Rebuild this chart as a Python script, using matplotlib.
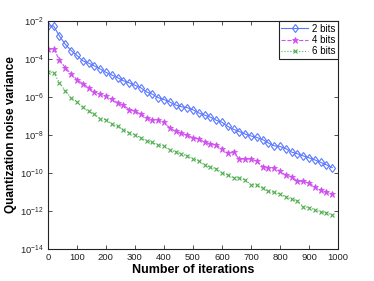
import numpy as np
import matplotlib
matplotlib.use("Agg")
import matplotlib.pyplot as plt

# iterations (markers every 20)
iterations = np.arange(0, 1000, 20)

# noise variance, stored as log10 exponents
exp_2bits = [-2.26, -2.26, -2.79, -3.22, -3.55, -3.81, -4.09, -4.21, -4.36, -4.52,
             -4.70, -4.84, -4.98, -5.14, -5.25, -5.38, -5.51, -5.73, -5.85, -6.03,
             -6.13, -6.26, -6.42, -6.51, -6.56, -6.67, -6.84, -6.95, -7.06, -7.22,
             -7.33, -7.55, -7.70, -7.82, -7.95, -8.05, -8.13, -8.24, -8.42, -8.57,
             -8.60, -8.72, -8.90, -8.99, -9.10, -9.20, -9.31, -9.44, -9.57, -9.72]
exp_4bits = [-3.47, -3.47, -4.04, -4.46, -4.77, -5.08, -5.30, -5.50, -5.72, -5.83,
             -5.97, -6.12, -6.30, -6.42, -6.66, -6.75, -6.89, -7.08, -7.21, -7.21,
             -7.34, -7.63, -7.79, -7.91, -8.02, -8.14, -8.22, -8.36, -8.48, -8.54,
             -8.72, -8.97, -8.92, -9.27, -9.26, -9.27, -9.38, -9.67, -9.73, -9.74,
             -9.90, -10.12, -10.19, -10.44, -10.44, -10.54, -10.72, -10.91, -11.00, -11.11]
exp_6bits = [-4.67, -4.71, -5.25, -5.68, -6.04, -6.26, -6.55, -6.75, -6.90, -7.14,
             -7.19, -7.41, -7.55, -7.71, -7.87, -7.98, -8.14, -8.30, -8.39, -8.53,
             -8.56, -8.79, -8.88, -9.00, -9.09, -9.25, -9.36, -9.58, -9.69, -9.77,
             -9.99, -10.10, -10.25, -10.24, -10.37, -10.61, -10.63, -10.81, -10.95, -11.02,
             -11.12, -11.25, -11.38, -11.47, -11.77, -11.82, -11.95, -12.04, -12.09, -12.21]

labels = ["2 bits", "4 bits", "6 bits"]

plt.rcParams['font.family'] = ['Liberation Sans', 'DejaVu Sans']

fig = plt.figure(figsize=(3.74, 2.81), dpi=100)
ax = fig.add_axes([0.128, 0.114, 0.776, 0.811])

ax.semilogy(iterations, 10.0 ** np.array(exp_2bits), '-', color='#5a78ff', lw=0.8,
            marker='d', markersize=4.5, markerfacecolor='none', markeredgewidth=0.8,
            label=labels[0])
ax.semilogy(iterations, 10.0 ** np.array(exp_4bits), '--', color='#d050f0', lw=0.8,
            marker='*', markersize=4.5, markeredgewidth=0.6, label=labels[1])
ax.semilogy(iterations, 10.0 ** np.array(exp_6bits), ':', color='#4caf4c', lw=0.8,
            marker='x', markersize=3.5, markeredgewidth=0.8, label=labels[2])

ax.set_xlim(0, 1000)
ax.set_ylim(1e-14, 1e-2)
ax.set_xticks(np.arange(0, 1001, 100))
ax.set_yticks([10.0 ** e for e in range(-14, -1, 2)])
ax.yaxis.set_minor_locator(matplotlib.ticker.NullLocator())
ax.tick_params(which='both', direction='in', top=True, right=True, labelsize=6.8,
               length=3, width=0.6, color='#333333', labelcolor='#222222', pad=3)
for s in ax.spines.values():
    s.set_linewidth(0.8)
    s.set_color('#222222')

ax.set_xlabel("Number of iterations", fontsize=9, fontweight='bold', labelpad=1)
ax.set_ylabel("Quantization noise variance", fontsize=8.5, fontweight='bold', labelpad=2)

leg = ax.legend(loc='upper right', fontsize=7, fancybox=False, framealpha=1,
                edgecolor='#222222', borderaxespad=0, handlelength=2.8,
                labelspacing=0.15, borderpad=0.25, handletextpad=0.4)
leg.get_frame().set_linewidth(0.8)

fig.savefig("out.png", dpi=100)
